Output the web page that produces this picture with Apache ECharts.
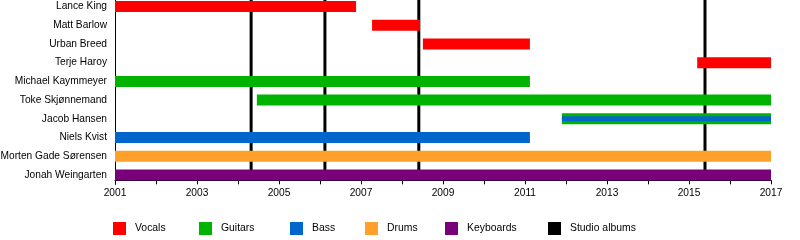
<!DOCTYPE html>
<html>
<head>
<meta charset="utf-8">
<script src="https://cdn.jsdelivr.net/npm/echarts@6/dist/echarts.min.js"></script>
<style>
html,body{margin:0;padding:0;background:#fff;}
#chart{width:800px;height:240px;}
</style>
</head>
<body>
<div id="chart"></div>
<script>
// Band members (top to bottom)
var members = ['Lance King','Matt Barlow','Urban Breed','Terje Haroy','Michael Kaymmeyer','Toke Skjønnemand','Jacob Hansen','Niels Kvist','Morten Gade Sørensen','Jonah Weingarten'];
// [member, start year, end year]
var vocals = [['Lance King',2001,2006.88],['Matt Barlow',2007.27,2008.44],['Urban Breed',2008.51,2011.12],['Terje Haroy',2015.2,2017]];
var guitars = [['Michael Kaymmeyer',2001,2011.12],['Toke Skjønnemand',2004.46,2017],['Jacob Hansen',2011.9,2017]];
var bass = [['Niels Kvist',2001,2011.12]];
var bassSecondary = [['Jacob Hansen',2011.9,2017]];
var drums = [['Morten Gade Sørensen',2001,2017]];
var keyboards = [['Jonah Weingarten',2001,2017]];
var studioAlbums = [2004.32, 2006.12, 2008.41, 2015.39];
var yearMin = 2001, yearMax = 2017;

var colors = {Vocals:'#ff0000', Guitars:'#00b300', Bass:'#0066cc', Drums:'#ffa02a', Keyboards:'#780078', 'Studio albums':'#000000'};
var FONT = 'Liberation Sans, Arial, sans-serif';

function barRender(h){
  return function(params, api){
    var cat = api.value(0);
    var s = api.coord([api.value(1), cat]);
    var e = api.coord([api.value(2), cat]);
    return {type:'rect', shape:{x:s[0], y:s[1]-h/2, width:e[0]-s[0], height:h}, style:{fill:api.visual('color')}};
  };
}
function barSeries(name, data, h, color){
  return {type:'custom', name:name, renderItem:barRender(h), itemStyle:{color:color},
    encode:{x:[1,2], y:0}, data:data, z:3, silent:true};
}
function albumRender(params, api){
  var x = api.coord([api.value(0), members[0]])[0];
  var cs = params.coordSys;
  return {type:'line', shape:{x1:x, y1:cs.y, x2:x, y2:cs.y+cs.height-4}, style:{stroke:'#000', lineWidth:3}};
}

var legendNames = ['Vocals','Guitars','Bass','Drums','Keyboards','Studio albums'];
var legendLeft = [113, 199, 290, 365, 445, 548];
var legends = legendNames.map(function(n, i){
  return {data:[n], left:legendLeft[i], top:222, itemWidth:13, itemHeight:13, icon:'rect',
    selectedMode:false, padding:0, textStyle:{fontSize:10.4, color:'#000', fontFamily:FONT, padding:[0,0,0,4]}};
});

var chart = echarts.init(document.getElementById('chart'), null, {renderer:'canvas'});
chart.setOption({
  animation:false,
  backgroundColor:'#fff',
  grid:{left:115, right:29, top:-2.86, height:187.2, containLabel:false, outerBoundsMode:'none'},
  xAxis:{type:'value', min:yearMin, max:yearMax, interval:1, offset:-4,
    axisLine:{show:true, lineStyle:{color:'#000', width:1}},
    axisTick:{show:true, length:4, lineStyle:{color:'#000'}},
    axisLabel:{margin:8, fontSize:10.2, color:'#000', fontFamily:FONT,
      formatter:function(v){ return (v - yearMin) % 2 === 0 ? String(v) : ''; }},
    splitLine:{show:false}},
  yAxis:{type:'category', data:members, inverse:true,
    axisLine:{show:true, lineStyle:{color:'#000', width:1}},
    axisTick:{show:false},
    axisLabel:{margin:8, fontSize:10.2, color:'#000', fontFamily:FONT},
    splitLine:{show:false}},
  legend:legends,
  series:[
    {type:'custom', name:'Studio albums', renderItem:albumRender, itemStyle:{color:colors['Studio albums']},
      encode:{x:0}, data:studioAlbums.map(function(v){return [v];}), z:2, silent:true},
    barSeries('Vocals', vocals, 11, colors.Vocals),
    barSeries('Guitars', guitars, 11, colors.Guitars),
    barSeries('Bass', bass, 11, colors.Bass),
    barSeries('Bass ', bassSecondary, 5, colors.Bass),
    barSeries('Drums', drums, 11, colors.Drums),
    barSeries('Keyboards', keyboards, 11, colors.Keyboards)
  ]
});
</script>
</body>
</html>
